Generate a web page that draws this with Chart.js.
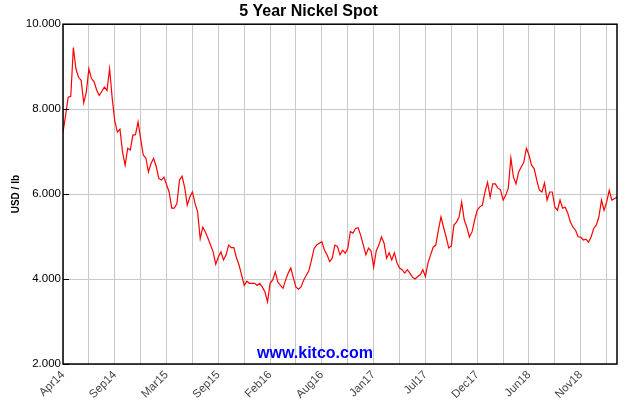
<!DOCTYPE html>
<html>
<head>
<meta charset="utf-8">
<title>5 Year Nickel Spot</title>
<script src="https://cdn.jsdelivr.net/npm/chart.js@4.4.1/dist/chart.umd.min.js"></script>
<style>
  body { margin: 0; background: #fff; }
  #wrap { width: 630px; height: 400px; }
</style>
</head>
<body>
<div id="wrap"><canvas id="nickel"></canvas></div>
<script>
// date labels, one every 20 samples
var dateLabels = ['Apr14', 'Sep14', 'Mar15', 'Sep15', 'Feb16', 'Aug16', 'Jan17', 'Jul17', 'Dec17', 'Jun18', 'Nov18'];

// nickel spot, USD / lb (~6 trading days per sample)
var prices2014 = [7.45, 7.85, 8.28, 8.30, 9.45, 8.95, 8.75, 8.68, 8.15, 8.40,
                  8.95, 8.72, 8.65, 8.45, 8.32, 8.42, 8.52, 8.44, 8.95, 8.26,
                  7.72, 7.46, 7.53, 6.99, 6.68, 7.08, 7.04, 7.39, 7.40, 7.70,
                  7.30, 6.92, 6.85, 6.52, 6.72, 6.84, 6.65, 6.37];
var prices2015 = [6.33, 6.40, 6.22, 6.05, 5.67, 5.67, 5.78, 6.33, 6.42, 6.16,
                  5.74, 5.93, 6.05, 5.78, 5.58, 4.95, 5.22, 5.11, 4.96, 4.80,
                  4.64, 4.35, 4.52, 4.64, 4.45, 4.57, 4.80, 4.74, 4.74, 4.50,
                  4.33, 4.09, 3.85, 3.95, 3.90, 3.90];
var prices2016 = [3.90, 3.85, 3.90, 3.81, 3.70, 3.46, 3.90, 3.98, 4.17, 3.93,
                  3.85, 3.78, 3.98, 4.14, 4.26, 4.02, 3.81, 3.76, 3.82, 3.98,
                  4.09, 4.20, 4.45, 4.72, 4.80, 4.84, 4.88, 4.68, 4.57, 4.41,
                  4.49, 4.80, 4.77, 4.57, 4.68, 4.61, 4.72, 5.12, 5.08, 5.19];
var prices2017 = [5.21, 5.03, 4.80, 4.57, 4.73, 4.66, 4.28, 4.66, 4.80, 4.99,
                  4.85, 4.49, 4.62, 4.45, 4.62, 4.38, 4.26, 4.22, 4.14, 4.22,
                  4.14, 4.04, 4.00, 4.06, 4.10, 4.22, 4.06, 4.38, 4.57, 4.75,
                  4.80, 5.15, 5.46, 5.22, 4.99, 4.73, 4.78, 5.27, 5.34, 5.46,
                  5.81, 5.39, 5.22, 4.99, 5.11, 5.39, 5.62, 5.70, 5.74, 6.05];
var prices2018 = [6.28, 5.93, 6.24, 6.24, 6.14, 6.10, 5.86, 5.97, 6.14, 6.85,
                  6.40, 6.24, 6.52, 6.64, 6.75, 7.08, 6.92, 6.68, 6.60, 6.33,
                  6.10, 6.05, 6.26, 5.86, 6.05, 6.05, 5.69, 5.62, 5.86, 5.67,
                  5.69, 5.55, 5.34, 5.22, 5.15, 4.99, 4.99, 4.92, 4.94, 4.87,
                  4.99, 5.19, 5.27, 5.46, 5.86, 5.62, 5.81, 6.09, 5.86, 5.89, 5.93];

var yTicks = [2, 4, 6, 8, 10];

var prices = prices2014.concat(prices2015, prices2016, prices2017, prices2018);
var points = prices.map(function(v, i) { return { x: i, y: v }; });

Chart.defaults.font.family = '"Liberation Sans", Arial, sans-serif';

// frame round the plot, short inward ticks on the y axis, watermark
var framePlugin = {
  id: 'frame',
  beforeDatasetsDraw: function(chart) {
    var ctx = chart.ctx;
    ctx.save();
    ctx.font = 'bold 16px "Liberation Sans", Arial, sans-serif';
    ctx.fillStyle = '#0000ff';
    ctx.textAlign = 'center';
    ctx.textBaseline = 'alphabetic';
    ctx.fillText('www.kitco.com', chart.width / 2, 358);
    ctx.restore();
  },
  afterDraw: function(chart) {
    var ctx = chart.ctx;
    var a = chart.chartArea;
    var y = chart.scales.y;
    ctx.save();
    ctx.strokeStyle = '#000';
    ctx.lineWidth = 1.5;
    ctx.strokeRect(a.left, a.top, a.right - a.left, a.bottom - a.top);
    ctx.lineWidth = 1;
    yTicks.forEach(function(t) {
      var py = Math.round(y.getPixelForValue(t)) + 0.5;
      ctx.beginPath();
      ctx.moveTo(a.left, py);
      ctx.lineTo(a.left + 6, py);
      ctx.stroke();
    });
    ctx.restore();
  }
};

new Chart(document.getElementById('nickel'), {
  type: 'line',
  data: {
    datasets: [{
      label: 'Nickel',
      data: points,
      borderColor: '#ff0000',
      borderWidth: 1.2,
      pointRadius: 0,
      tension: 0,
      fill: false
    }]
  },
  options: {
    responsive: true,
    maintainAspectRatio: false,
    animation: false,
    layout: { padding: { left: 0, right: 13, top: 0, bottom: 0 } },
    plugins: {
      legend: { display: false },
      tooltip: { enabled: false },
      title: {
        display: true,
        text: '5 Year Nickel Spot',
        color: '#000',
        font: { size: 16, weight: 'bold' },
        padding: { top: 2, bottom: 3 }
      }
    },
    scales: {
      x: {
        type: 'linear',
        min: 0,
        max: prices.length - 1,
        afterFit: function(scale) { scale.height = 36; },
        border: { display: false },
        grid: { color: '#c8c8c8', lineWidth: 1, drawTicks: false },
        ticks: {
          stepSize: 10,
          includeBounds: false,
          autoSkip: false,
          minRotation: 45,
          maxRotation: 45,
          padding: 4,
          color: '#444',
          font: { size: 11.5 },
          callback: function(value) {
            return value % 20 === 0 ? dateLabels[value / 20] : '';
          }
        }
      },
      y: {
        min: 2,
        max: 10,
        afterFit: function(scale) { scale.width = 63; },
        border: { display: false },
        grid: { color: '#c8c8c8', lineWidth: 1, drawTicks: false },
        title: {
          display: true,
          text: 'USD / lb',
          color: '#000',
          font: { size: 10, weight: 'bold' },
          padding: { top: 10, bottom: 0 }
        },
        ticks: {
          stepSize: 2,
          padding: 2,
          color: '#000',
          font: { size: 11.5 },
          callback: function(value) { return value.toFixed(3); }
        }
      }
    }
  },
  plugins: [framePlugin]
});
</script>
</body>
</html>
